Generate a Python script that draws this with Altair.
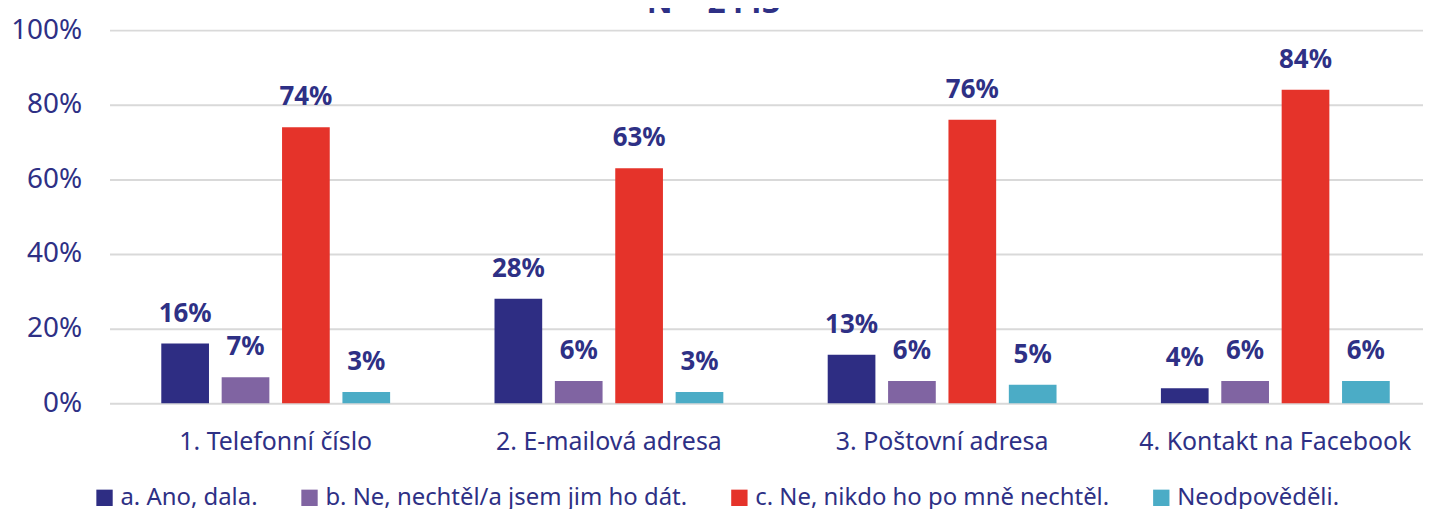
import altair as alt
import pandas as pd

categories = ["1. Telefonní číslo", "2. E-mailová adresa", "3. Poštovní adresa", "4. Kontakt na Facebook"]
series = ["a. Ano, dala.", "b. Ne, nechtěl/a jsem jim ho dát.", "c. Ne, nikdo ho po mně nechtěl.", "Neodpověděli."]
values = {
    "a. Ano, dala.": [16, 28, 13, 4],
    "b. Ne, nechtěl/a jsem jim ho dát.": [7, 6, 6, 6],
    "c. Ne, nikdo ho po mně nechtěl.": [74, 63, 76, 84],
    "Neodpověděli.": [3, 3, 5, 6],
}
colors = ["#2E2D83", "#8064A2", "#E5332A", "#4BACC6"]
yticks = [0, 20, 40, 60, 80, 100]

rows = []
for s in series:
    for c, v in zip(categories, values[s]):
        rows.append({"kategorie": c, "serie": s, "hodnota": v, "label": f"{v}%"})
df = pd.DataFrame(rows)

navy = "#2E3085"
font = "Noto Sans"

x = alt.X("kategorie:N", sort=categories, title=None,
          scale=alt.Scale(paddingInner=0.277, paddingOuter=0.1095, align=0.627),
          axis=alt.Axis(labelAngle=0, labelFontSize=25, labelColor=navy, labelFont=font,
                        labelPadding=26, labelLimit=0, ticks=False, domain=False))
xo = alt.XOffset("serie:N", sort=series, scale=alt.Scale(paddingInner=0.21, paddingOuter=0.1))

base = alt.Chart(df)

bars = base.mark_bar().encode(
    x=x,
    xOffset=xo,
    y=alt.Y("hodnota:Q", title=None,
            scale=alt.Scale(domain=[0, 100]),
            axis=alt.Axis(values=yticks, labelExpr="datum.value + '%'", labelFontSize=28,
                          labelColor=navy, labelFont=font, labelPadding=28, ticks=False,
                          domain=False, gridColor="#D9D9D9", gridWidth=2)),
    color=alt.Color("serie:N", sort=series,
                    scale=alt.Scale(domain=series, range=colors),
                    legend=alt.Legend(title=None, orient="none", legendX=-17, legendY=458,
                                      direction="horizontal", columns=4, columnPadding=40,
                                      symbolType="square", symbolSize=270, symbolStrokeWidth=0,
                                      symbolOpacity=1,
                                      labelFontSize=24, labelColor=navy, labelFont=font,
                                      labelOffset=4, labelLimit=0)),
)

text = base.mark_text(baseline="bottom", dy=-17, fontSize=26, fontWeight="bold",
                      color=navy, font=font).encode(
    x=alt.X("kategorie:N", sort=categories),
    xOffset=xo,
    y="hodnota:Q",
    text="label:N",
)

chart = (bars + text).properties(
    width=1320, height=375,
    title=alt.TitleParams("N = 2443", fontSize=32, fontWeight="bold", color=navy, font=font,
                          anchor="middle", offset=-4, dx=-53),
    autosize=alt.AutoSizeParams(type="none"),
    padding={"left": 102, "top": 21, "right": 0, "bottom": 105},
).configure_view(stroke=None)

chart.save("out.html", embed_options={"renderer": "svg", "actions": False})
